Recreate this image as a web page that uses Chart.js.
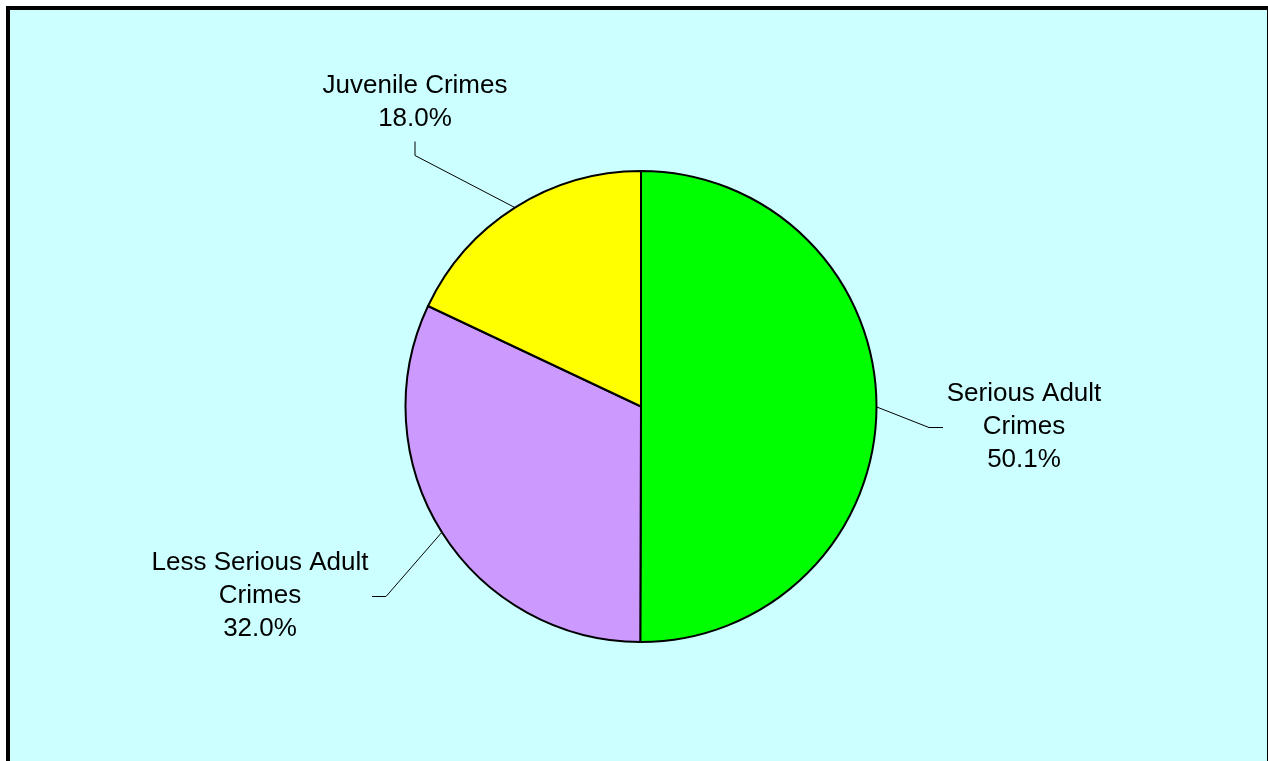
<!DOCTYPE html>
<html>
<head>
<meta charset="utf-8">
<script src="https://cdn.jsdelivr.net/npm/chart.js@4/dist/chart.umd.min.js"></script>
<style>
  html, body { margin: 0; padding: 0; background: #fff; }
  canvas { display: block; }
</style>
</head>
<body>
<canvas id="pieChart" width="1268" height="761"></canvas>
<script>
const categories = ["Serious Adult Crimes", "Less Serious Adult Crimes", "Juvenile Crimes"];
const labelLines = [["Serious Adult", "Crimes"], ["Less Serious Adult", "Crimes"], ["Juvenile Crimes"]];
const shares = [50.1, 32.0, 18.0];
const sliceColors = ["#00ff00", "#cc99ff", "#ffff00"];

// label placement relative to pie centre: elbow, end of leader, text centre x, first text line y
const labelLayout = [
  { elbow: [288, 21], end: [302, 21], textX: 383, textY: -13 },
  { elbow: [-255, 190], end: [-269, 190], textX: -381, textY: 156 },
  { elbow: [-226, -251], end: [-226, -265], textX: -226, textY: -321 },
];
const LINE_HEIGHT = 33;

const framePlugin = {
  id: "frame",
  beforeDraw(chart) {
    const ctx = chart.ctx;
    ctx.save();
    ctx.fillStyle = "#ffffff";
    ctx.fillRect(0, 0, chart.width, chart.height);
    ctx.fillStyle = "#ccffff";
    ctx.fillRect(8, 8, chart.width, chart.height);
    ctx.strokeStyle = "#000";
    ctx.lineWidth = 4;
    ctx.strokeRect(8, 8, 1261, chart.height + 20);
    ctx.restore();
  },
};

const leaderPlugin = {
  id: "leaders",
  afterDraw(chart) {
    const ctx = chart.ctx;
    const arcs = chart.getDatasetMeta(0).data;
    ctx.save();
    arcs.forEach((arc, i) => {
      const { x, y, startAngle, endAngle, outerRadius } = arc.getProps(
        ["x", "y", "startAngle", "endAngle", "outerRadius"], true);
      const mid = (startAngle + endAngle) / 2;
      const sx = x + Math.cos(mid) * outerRadius;
      const sy = y + Math.sin(mid) * outerRadius;
      const lay = labelLayout[i];

      ctx.strokeStyle = "#000";
      ctx.lineWidth = 1;
      ctx.beginPath();
      ctx.moveTo(sx, sy);
      ctx.lineTo(x + lay.elbow[0], y + lay.elbow[1]);
      ctx.lineTo(x + lay.end[0], y + lay.end[1]);
      ctx.stroke();

      const lines = labelLines[i].concat([shares[i].toFixed(1) + "%"]);
      ctx.fillStyle = "#000";
      ctx.font = '26px "Liberation Sans", Arial, sans-serif';
      ctx.textAlign = "center";
      ctx.textBaseline = "middle";
      lines.forEach((t, k) => {
        ctx.fillText(t, x + lay.textX, y + lay.textY + k * LINE_HEIGHT);
      });
    });
    ctx.restore();
  },
};

new Chart(document.getElementById("pieChart"), {
  type: "pie",
  data: {
    labels: categories,
    datasets: [{
      data: shares,
      backgroundColor: sliceColors,
      borderColor: "#000",
      borderWidth: 2,
      hoverOffset: 0,
    }],
  },
  options: {
    responsive: false,
    animation: false,
    layout: { padding: { top: 170, bottom: 118, left: 200, right: 186 } },
    plugins: {
      legend: { display: false },
      tooltip: { enabled: false },
    },
  },
  plugins: [framePlugin, leaderPlugin],
});
</script>
</body>
</html>
